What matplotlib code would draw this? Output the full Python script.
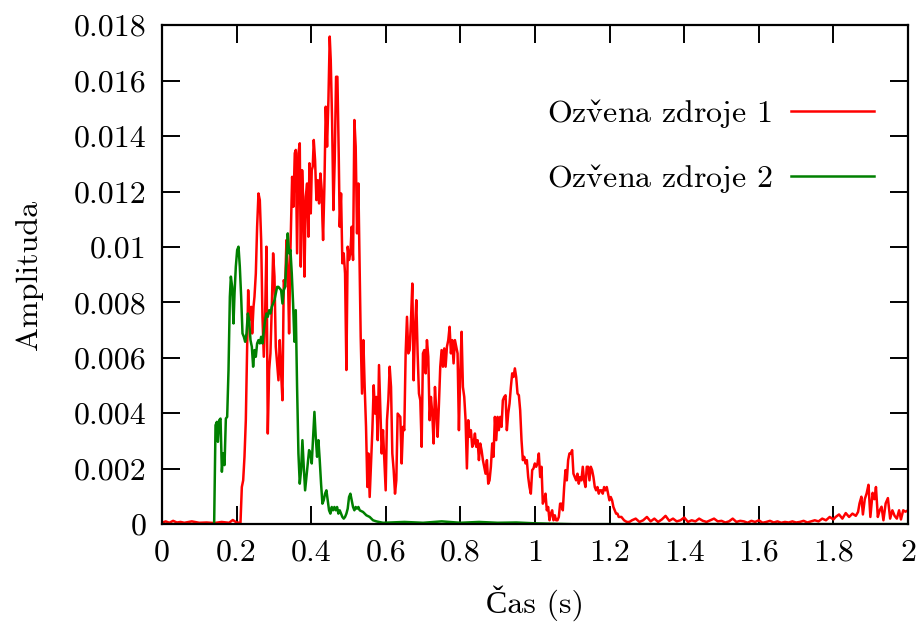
#!/usr/bin/env python3
"""Echo amplitude of two sources over time (gnuplot-like look)."""

import numpy as np
import matplotlib
matplotlib.use('Agg')
import matplotlib.pyplot as plt

# Echo of source 1 (time in s, amplitude in 1e-3)
t_src1 = [
    0.000, 0.010, 0.020, 0.030, 0.040, 0.050, 0.060, 0.080, 0.100, 0.120,
    0.140, 0.160, 0.180, 0.190, 0.200, 0.2106,
    0.2142, 0.2178, 0.2213, 0.2249, 0.2285, 0.2312, 0.2338, 0.2365, 0.2392, 0.2419,
    0.2455, 0.2481, 0.2517, 0.2552, 0.2588, 0.2624, 0.2660, 0.2695, 0.2731, 0.2767,
    0.2802, 0.2838, 0.2874, 0.2909, 0.2945, 0.2981, 0.3017, 0.3052, 0.3088, 0.3124,
    0.3159, 0.3195, 0.3231, 0.3266, 0.3302, 0.3338, 0.3373, 0.3409, 0.3445, 0.3490,
    0.3525, 0.3561, 0.3588, 0.3623, 0.3659, 0.3695, 0.3722, 0.3758, 0.3793, 0.3820,
    0.3856, 0.3891, 0.3927, 0.3954, 0.3990, 0.4016, 0.4043, 0.4070, 0.4105, 0.4141,
    0.4177, 0.4213, 0.4248, 0.4284, 0.4302, 0.4320, 0.4355, 0.4391, 0.4427, 0.4463,
    0.4498, 0.4525, 0.4561, 0.4597, 0.4632, 0.4668, 0.4704, 0.4739, 0.4766, 0.4802,
    0.4837, 0.4873, 0.4909, 0.4945, 0.4980, 0.5016, 0.5052, 0.5087, 0.5123, 0.5159,
    0.5194, 0.5230, 0.5266, 0.5302, 0.5328, 0.5364, 0.5400, 0.5435, 0.5471, 0.5507,
    0.5534, 0.5569, 0.5605, 0.5641, 0.5677, 0.5712, 0.5748, 0.5784, 0.5819, 0.5855,
    0.5891, 0.5926, 0.5962, 0.5998, 0.6033, 0.6069, 0.6105, 0.6141, 0.6176, 0.6212,
    0.6248, 0.6283, 0.6319, 0.6390, 0.6426, 0.6462, 0.6497, 0.6533, 0.6569, 0.6605,
    0.6640, 0.6676, 0.6712, 0.6747, 0.6783, 0.6819, 0.6854, 0.6890, 0.6926, 0.6962,
    0.6997, 0.7033, 0.7069, 0.7104, 0.7140, 0.7176, 0.7211, 0.7247, 0.7283, 0.7319,
    0.7354, 0.7390, 0.7426, 0.7461, 0.7497, 0.7533, 0.7568, 0.7604, 0.7640, 0.7676,
    0.7711, 0.7747, 0.7783, 0.7818, 0.7854, 0.7890, 0.7925, 0.7961, 0.7997, 0.8033,
    0.8068, 0.8104, 0.8140, 0.8175, 0.8211, 0.8247, 0.8282, 0.8318, 0.8354, 0.8390,
    0.8425, 0.8461, 0.8497, 0.8532, 0.8568, 0.8604, 0.8640, 0.8675, 0.8711, 0.8747,
    0.8782, 0.8818, 0.8854, 0.8889, 0.8925, 0.8961, 0.8997, 0.9032, 0.9068, 0.9104,
    0.9139, 0.9175, 0.9211, 0.9246, 0.9282, 0.9318, 0.9354, 0.9389, 0.9425, 0.9461,
    0.9496, 0.9532, 0.9568, 0.9603, 0.9639, 0.9675, 0.9711, 0.9746, 0.9782, 0.9818,
    0.9853, 0.9889, 0.9925, 0.9960, 0.9996, 1.0032, 1.0068, 1.0103, 1.0139, 1.0175,
    1.0210, 1.0246, 1.0282, 1.0317, 1.0353, 1.0389, 1.0425, 1.0460, 1.0496, 1.0532,
    1.0567, 1.0603, 1.0639, 1.0674, 1.0710, 1.0746, 1.0782, 1.0817, 1.0853, 1.0889,
    1.0924, 1.0960, 1.0996, 1.1031, 1.1067, 1.1103, 1.1139, 1.1174, 1.1210, 1.1246,
    1.1281, 1.1317, 1.1353, 1.1388, 1.1424, 1.1460, 1.1496, 1.1531, 1.1567, 1.1603,
    1.1638, 1.1674, 1.1710, 1.1745, 1.1781, 1.1817, 1.1853, 1.1888, 1.1924, 1.1960,
    1.1995, 1.2031, 1.2067, 1.2102, 1.2138, 1.2174, 1.2210, 1.2245, 1.2281, 1.2317,
    1.2352, 1.2388, 1.2460, 1.2531,
    1.26, 1.27, 1.28, 1.29, 1.30, 1.31, 1.32, 1.33, 1.34, 1.35,
    1.36, 1.37, 1.38, 1.39, 1.40, 1.41, 1.42, 1.43, 1.44, 1.45,
    1.46, 1.47, 1.48, 1.49, 1.50, 1.51, 1.52, 1.53, 1.54, 1.55,
    1.56, 1.57, 1.58, 1.59, 1.60, 1.61, 1.62, 1.63, 1.64, 1.65,
    1.66, 1.67, 1.68, 1.69, 1.70, 1.71, 1.72, 1.73, 1.74, 1.75,
    1.76, 1.77, 1.78, 1.79,
    1.800, 1.806, 1.815, 1.824, 1.833, 1.842, 1.851, 1.860, 1.866, 1.870,
    1.875, 1.879, 1.884, 1.889, 1.894, 1.899, 1.905, 1.910, 1.914, 1.919,
    1.924, 1.929, 1.934, 1.940, 1.946, 1.952, 1.958, 1.964, 1.970, 1.976,
    1.981, 1.987, 1.993, 2.000,
]
amp_src1 = [
    0.05, 0.10, 0.05, 0.12, 0.06, 0.08, 0.05, 0.10, 0.05, 0.06,
    0.04, 0.08, 0.05, 0.15, 0.06, 0.05,
    1.34, 1.58, 2.43, 3.75, 6.40, 8.44, 7.36, 7.72, 7.84, 6.88,
    7.84, 8.20, 9.04, 10.73, 11.93, 11.69, 10.25, 7.48, 6.04, 7.60,
    10.01, 3.27, 5.56, 6.16, 7.84, 9.77, 8.93, 6.40, 5.80, 5.19,
    6.64, 5.44, 4.47, 8.80, 8.56, 10.25, 9.29, 6.88, 9.89, 12.53,
    11.45, 13.38, 13.50, 9.77, 13.38, 13.74, 9.29, 12.77, 11.45, 8.93,
    11.81, 12.29, 10.37, 13.02, 11.21, 12.77, 12.90, 13.86, 13.14, 11.69,
    12.41, 11.57, 12.65, 12.05, 10.97, 10.25, 12.17, 15.06, 13.62, 15.30,
    17.59, 16.75, 14.58, 11.33, 13.14, 16.14, 16.14, 13.38, 10.73, 11.93,
    9.41, 9.77, 9.04, 5.56, 10.01, 9.53, 9.77, 10.73, 9.53, 14.58,
    13.62, 10.49, 12.29, 9.17, 6.76, 4.71, 6.64, 4.95, 3.51, 1.34,
    2.55, 0.98, 2.19, 3.39, 5.01, 3.99, 4.59, 3.03, 5.74, 4.11,
    2.55, 3.39, 2.31, 1.22, 3.75, 4.47, 5.68, 4.95, 2.55, 1.95,
    1.10, 1.58, 3.99, 3.87, 2.19, 3.51, 3.39, 6.16, 7.48, 6.16,
    6.28, 7.36, 8.68, 5.19, 7.00, 8.08, 6.16, 4.71, 4.47, 2.79,
    6.16, 6.28, 5.44, 6.64, 6.04, 3.75, 4.59, 3.99, 2.91, 4.95,
    4.11, 3.15, 4.35, 5.68, 6.28, 5.68, 6.34, 5.68, 6.40, 6.64,
    7.12, 6.16, 6.64, 5.80, 6.64, 6.40, 6.16, 3.39, 5.44, 6.94,
    4.95, 4.59, 3.75, 2.01, 3.75, 3.15, 3.39, 2.79, 2.91, 3.27,
    2.79, 3.03, 2.31, 2.91, 2.67, 2.31, 2.07, 1.82, 2.31, 1.46,
    1.58, 2.07, 2.91, 2.43, 3.87, 3.03, 3.87, 3.39, 3.87, 3.51,
    4.47, 4.59, 4.65, 3.39, 3.99, 4.35, 4.95, 5.44, 5.31, 5.62,
    5.31, 4.71, 4.65, 4.11, 3.03, 2.31, 2.43, 2.19, 2.31, 1.70,
    1.34, 1.10, 1.95, 2.01, 2.19, 2.07, 2.19, 2.55, 1.70, 2.07,
    0.74, 0.86, 1.10, 0.50, 0.62, 0.14, 0.38, 0.50, 0.14, 0.32,
    0.14, 0.14, 0.26, 0.74, 0.74, 0.50, 1.34, 1.95, 1.58, 2.31,
    2.55, 2.55, 2.67, 1.82, 1.70, 1.58, 1.82, 1.46, 1.70, 1.58,
    2.07, 1.58, 1.34, 2.07, 2.07, 1.58, 2.07, 1.95, 1.70, 1.34,
    1.22, 1.34, 1.10, 1.22, 1.22, 1.10, 1.34, 1.22, 1.34, 1.10,
    0.86, 0.98, 0.86, 0.62, 0.50, 0.38, 0.38, 0.26, 0.26, 0.26,
    0.20, 0.14, 0.08, 0.08,
    0.14, 0.20, 0.08, 0.14, 0.26, 0.10, 0.20, 0.08, 0.17, 0.30,
    0.12, 0.20, 0.10, 0.14, 0.24, 0.08, 0.14, 0.10, 0.20, 0.12,
    0.08, 0.14, 0.20, 0.10, 0.12, 0.06, 0.10, 0.20, 0.08, 0.12,
    0.10, 0.05, 0.12, 0.08, 0.14, 0.05, 0.08, 0.12, 0.06, 0.10,
    0.05, 0.08, 0.06, 0.10, 0.06, 0.08, 0.12, 0.06, 0.10, 0.14,
    0.10, 0.20, 0.14, 0.26,
    0.17, 0.26, 0.35, 0.20, 0.40, 0.26, 0.38, 0.30, 0.44, 0.75,
    0.99, 0.35, 0.90, 1.11, 1.42, 0.26, 1.13, 0.90, 1.34, 0.26,
    0.50, 0.63, 0.14, 0.75, 0.94, 0.20, 0.50, 0.30, 0.20, 0.50,
    0.17, 0.50, 0.45, 0.50,
]

# Echo of source 2 (time in s, amplitude in 1e-3)
t_src2 = [
    0.000, 0.1400,
    0.1437, 0.1473, 0.1500, 0.1535, 0.1571, 0.1607, 0.1642, 0.1678, 0.1714, 0.1749,
    0.1785, 0.1821, 0.1848, 0.1883, 0.1919, 0.1946, 0.1981, 0.2017, 0.2053, 0.2088,
    0.2124, 0.2160, 0.2196, 0.2231, 0.2267, 0.2303, 0.2338, 0.2374, 0.2410, 0.2445,
    0.2481, 0.2517, 0.2552, 0.2588, 0.2624, 0.2660, 0.2695, 0.2731, 0.2767, 0.2802,
    0.2838, 0.2874, 0.2909, 0.2945, 0.2981, 0.3017, 0.3052, 0.3088, 0.3124, 0.3159,
    0.3195, 0.3231, 0.3266, 0.3302, 0.3338, 0.3373, 0.3409, 0.3445, 0.3481, 0.3516,
    0.3552, 0.3588, 0.3623, 0.3659, 0.3695, 0.3731, 0.3766, 0.3802, 0.3838, 0.3873,
    0.3909, 0.3945, 0.3980, 0.4016, 0.4052, 0.4088, 0.4123, 0.4159, 0.4195, 0.4230,
    0.4266, 0.4302, 0.4337, 0.4373, 0.4409, 0.4445, 0.4480, 0.4516, 0.4552, 0.4587,
    0.4623, 0.4659, 0.4695, 0.4730, 0.4766, 0.4802, 0.4837, 0.4873, 0.4909, 0.4945,
    0.4980, 0.5016, 0.5052, 0.5087, 0.5123, 0.5159, 0.5194, 0.5230, 0.5266, 0.5302,
    0.5391, 0.5480, 0.5569, 0.5659, 0.5748, 0.5926,
    0.65, 0.70, 0.75, 0.80, 0.85, 0.90, 0.95, 1.00, 1.10, 2.00,
]
amp_src2 = [
    0.00, 0.00,
    3.57, 3.69, 2.97, 3.75, 3.81, 1.89, 2.55, 2.13, 3.81, 3.87,
    5.56, 8.20, 8.93, 8.56, 7.24, 8.32, 9.29, 9.89, 10.01, 9.29,
    8.20, 6.88, 6.76, 6.58, 6.88, 7.60, 7.36, 6.64, 6.40, 5.68,
    6.28, 6.04, 6.52, 6.64, 6.52, 6.76, 6.52, 7.00, 7.36, 7.60,
    7.48, 7.72, 7.60, 7.84, 7.96, 8.08, 8.32, 8.56, 8.56, 8.50,
    8.44, 7.96, 8.44, 8.56, 9.53, 10.49, 9.77, 9.89, 9.04, 7.96,
    6.58, 7.72, 4.95, 2.55, 1.46, 1.95, 3.03, 2.07, 1.22, 1.70,
    2.19, 2.67, 2.55, 2.19, 3.15, 4.05, 3.15, 2.43, 3.03, 2.31,
    1.46, 0.74, 0.86, 1.10, 1.22, 0.86, 0.50, 0.38, 0.62, 0.50,
    0.62, 0.50, 0.62, 0.38, 0.50, 0.38, 0.26, 0.20, 0.26, 0.38,
    0.56, 0.98, 1.10, 0.86, 0.62, 0.50, 0.62, 0.56, 0.62, 0.50,
    0.44, 0.32, 0.26, 0.14, 0.10, 0.05,
    0.08, 0.05, 0.10, 0.05, 0.08, 0.05, 0.06, 0.03, 0.00, 0.00,
]

labels = ['Ozv$\\check{\\mathrm{e}}$na zdroje 1', 'Ozv$\\check{\\mathrm{e}}$na zdroje 2']
colors = ['#ff0000', '#008000']
x_ticks = [0, 0.2, 0.4, 0.6, 0.8, 1, 1.2, 1.4, 1.6, 1.8, 2]
y_ticks = [0, 0.002, 0.004, 0.006, 0.008, 0.01, 0.012, 0.014, 0.016, 0.018]


def main():
    plt.rcParams['font.family'] = ['cmr10', 'Liberation Serif', 'DejaVu Serif']
    plt.rcParams['mathtext.fontset'] = 'cm'
    plt.rcParams['axes.unicode_minus'] = False
    plt.rcParams['axes.formatter.use_mathtext'] = True

    fig = plt.figure(figsize=(9.2, 6.3), dpi=100)
    ax = fig.add_axes([0.176, 0.168, 0.811, 0.792])

    ax.plot(t_src1, np.array(amp_src1) * 1e-3, color=colors[0], lw=1.8, label=labels[0])
    ax.plot(t_src2, np.array(amp_src2) * 1e-3, color=colors[1], lw=1.8, label=labels[1])

    ax.set_xlim(0, 2)
    ax.set_ylim(0, 0.018)
    ax.set_xticks(x_ticks)
    ax.set_xticklabels([f'{v:g}' for v in x_ticks])
    ax.set_yticks(y_ticks)
    ax.set_yticklabels([f'{v:g}' for v in y_ticks])
    ax.tick_params(direction='in', length=13, width=1.4, labelsize=23,
                   top=True, right=True, pad=11)
    for sp in ax.spines.values():
        sp.set_linewidth(1.6)

    # cmr10 has no 'Č'; the glyph falls back to the next family in the list
    ax.set_xlabel('Čas (s)', fontsize=23, labelpad=13)
    ax.set_ylabel('Amplituda', fontsize=23, labelpad=22)

    ax.legend(loc='upper right', frameon=False, markerfirst=False, fontsize=23,
              handlelength=2.6, handletextpad=0.6, labelspacing=1.0,
              borderaxespad=0.3, bbox_to_anchor=(0.985, 0.90))

    fig.savefig('out.png', dpi=100)


if __name__ == '__main__':
    main()
